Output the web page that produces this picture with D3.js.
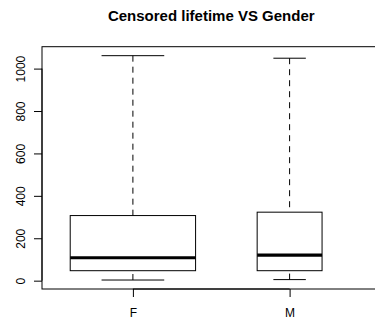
<!DOCTYPE html>
<html>
<head>
<meta charset="utf-8">
<script src="https://cdn.jsdelivr.net/npm/d3@7"></script>
<style>
  html, body { margin: 0; padding: 0; background: #fff; }
  svg { display: block; }
  text { font-family: "Liberation Sans", Arial, Helvetica, sans-serif; fill: #000; }
</style>
</head>
<body>
<svg id="chart" width="375" height="328"></svg>
<script>
// Five-number summaries of censored lifetime by gender
const groups = ["F", "M"];
const lowerWhisker = [3, 5];
const lowerQuartile = [47, 47];
const medians = [108, 120];
const upperQuartile = [307, 323];
const upperWhisker = [1061, 1049];
// Relative group sizes (box width is proportional to the square root)
const relativeCount = [1.0, 0.268];
const yTicks = [0, 200, 400, 600, 800, 1000];
const title = "Censored lifetime VS Gender";

const svg = d3.select("#chart");

// Plot region: axis ranges padded by 4% on both ends
const plotLeft = 42, plotRight = 380.5, plotTop = 46.7, plotBottom = 289;
const n = groups.length;
const xPad = 0.04 * n;
const x = d3.scaleLinear().domain([0.5 - xPad, n + 0.5 + xPad]).range([plotLeft, plotRight]);
const yMin = d3.min(lowerWhisker), yMax = d3.max(upperWhisker);
const yPad = 0.04 * (yMax - yMin);
const y = d3.scaleLinear().domain([yMin - yPad, yMax + yPad]).range([plotBottom, plotTop]);

// Title
svg.append("text")
  .attr("x", (plotLeft + plotRight) / 2)
  .attr("y", 20.7)
  .attr("text-anchor", "middle")
  .style("font-size", "15px")
  .style("font-weight", "bold")
  .text(title);

// Boxes
const maxRoot = d3.max(relativeCount, c => Math.sqrt(c));
const data = groups.map((g, i) => ({
  g, pos: i + 1,
  lo: lowerWhisker[i], q1: lowerQuartile[i], med: medians[i], q3: upperQuartile[i], hi: upperWhisker[i],
  w: 0.8 * Math.sqrt(relativeCount[i]) / maxRoot
}));

const box = svg.append("g").attr("class", "boxes");
data.forEach(d => {
  const cx = x(d.pos);
  const halfW = (x(d.pos + d.w / 2) - x(d.pos - d.w / 2)) / 2;
  const capHalf = halfW / 2;
  // dashed whiskers, drawn from the whisker end toward the box
  box.append("line")
    .attr("x1", cx).attr("x2", cx)
    .attr("y1", y(d.lo)).attr("y2", y(d.q1))
    .attr("stroke", "#000").attr("stroke-width", 1).attr("stroke-dasharray", "6,5");
  box.append("line")
    .attr("x1", cx).attr("x2", cx)
    .attr("y1", y(d.hi)).attr("y2", y(d.q3))
    .attr("stroke", "#000").attr("stroke-width", 1).attr("stroke-dasharray", "6,5");
  // caps
  [d.lo, d.hi].forEach(v => {
    box.append("line")
      .attr("x1", cx - capHalf).attr("x2", cx + capHalf)
      .attr("y1", y(v)).attr("y2", y(v))
      .attr("stroke", "#000").attr("stroke-width", 1);
  });
  // box
  box.append("rect")
    .attr("x", cx - halfW).attr("y", y(d.q3))
    .attr("width", 2 * halfW).attr("height", y(d.q1) - y(d.q3))
    .attr("fill", "none").attr("stroke", "#000").attr("stroke-width", 1);
  // median
  box.append("line")
    .attr("x1", cx - halfW).attr("x2", cx + halfW)
    .attr("y1", y(d.med)).attr("y2", y(d.med))
    .attr("stroke", "#000").attr("stroke-width", 3.2);
});

// Frame around the plot region
svg.append("rect")
  .attr("x", plotLeft).attr("y", plotTop)
  .attr("width", plotRight - plotLeft).attr("height", plotBottom - plotTop)
  .attr("fill", "none").attr("stroke", "#000").attr("stroke-width", 1);

// Y axis
const yAxis = d3.axisLeft(y).tickValues(yTicks).tickSize(8).tickPadding(9).tickFormat(d3.format("d"));
const yg = svg.append("g").attr("transform", `translate(${plotLeft},0)`).call(yAxis);
yg.select(".domain").attr("d", `M0,${y(yTicks[0])}V${y(yTicks[yTicks.length - 1])}`).attr("stroke", "#000");
yg.selectAll(".tick line").attr("stroke", "#000");
yg.selectAll(".tick text")
  .attr("x", 0).attr("dy", null)
  .attr("transform", "translate(-17.5,0) rotate(-90)")
  .attr("text-anchor", "middle")
  .style("font-size", "12px")
  .style("font-family", "'Liberation Sans', Arial, sans-serif")
  .attr("fill", "#000");

// X axis
const xAxis = d3.axisBottom(x).tickValues(data.map(d => d.pos)).tickFormat((d, i) => groups[i]).tickSize(8).tickPadding(0);
const xg = svg.append("g").attr("transform", `translate(0,${plotBottom})`).call(xAxis);
xg.select(".domain").attr("d", `M${x(1)},0H${x(n)}`).attr("stroke", "#000");
xg.selectAll(".tick line").attr("stroke", "#000");
xg.selectAll(".tick text")
  .attr("y", 28.3).attr("dy", null)
  .style("font-size", "12px")
  .style("font-family", "'Liberation Sans', Arial, sans-serif")
  .attr("fill", "#000");
</script>
</body>
</html>
